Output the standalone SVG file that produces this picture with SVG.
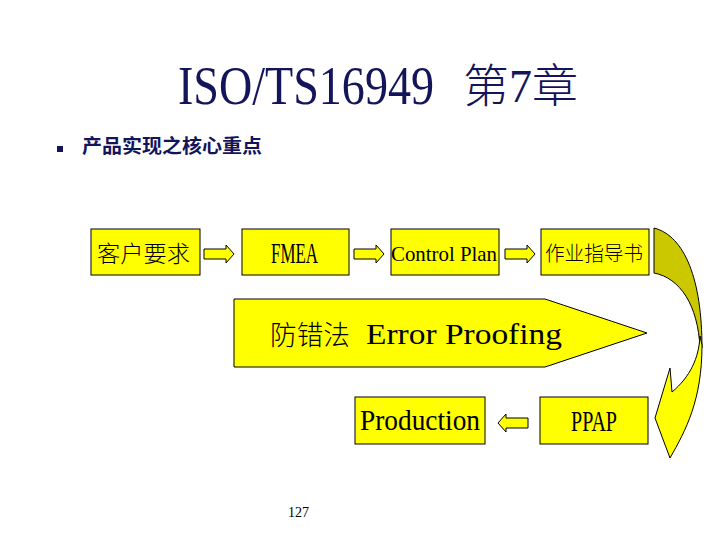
<svg xmlns="http://www.w3.org/2000/svg" width="720" height="540" viewBox="0 0 720 540">
<style>
.box{fill:#FFFF00;stroke:#000;stroke-width:1}
.arr{fill:#FFFF00;stroke:#000;stroke-width:1;stroke-linejoin:miter}
.cjk{font-family:"Noto Sans CJK SC","Noto Sans CJK JP",sans-serif;fill:#000;font-weight:300}
.ser{font-family:"Liberation Serif","Noto Sans CJK SC",serif;fill:#000}
.navy{fill:#14145A}
.sub{font-family:"Noto Sans CJK SC","Noto Sans CJK JP",sans-serif;font-weight:bold;fill:#14145A}
</style>
<rect width="720" height="540" fill="#fff"/>
<g id="title">
<text class="ser navy" transform="translate(178,104) scale(1,1.18)" x="0" y="0" font-size="46" textLength="256" lengthAdjust="spacingAndGlyphs">ISO/TS16949</text>
<text class="ser navy" x="463" y="102" font-size="46" font-weight="300">第7章</text>
</g>
<g id="subtitle">
<rect class="navy" x="57" y="146" width="6" height="6"/>
<text class="sub" x="82" y="153" font-size="19" textLength="180" lengthAdjust="spacingAndGlyphs">产品实现之核心重点</text>
</g>
<g id="node-customer">
<rect class="box" x="91" y="229" width="109" height="46"/>
<text class="cjk" x="97" y="262" font-size="23" textLength="93" lengthAdjust="spacingAndGlyphs">客户要求</text>
</g>
<g id="node-fmea">
<rect class="box" x="242" y="229" width="107" height="46"/>
<text class="ser" x="271" y="263" font-size="29" textLength="47" lengthAdjust="spacingAndGlyphs">FMEA</text>
</g>
<g id="node-controlplan">
<rect class="box" x="391" y="229" width="108" height="46"/>
<text class="ser" x="391" y="261" font-size="21" textLength="106" lengthAdjust="spacingAndGlyphs">Control Plan</text>
</g>
<g id="node-workinstruction">
<rect class="box" x="541" y="229" width="108" height="46"/>
<text class="cjk" x="545" y="261" font-size="20" textLength="98" lengthAdjust="spacingAndGlyphs">作业指导书</text>
</g>
<g id="node-errorproofing">
<polygon class="box" points="234,299 545,299 647,333 545,367 234,367"/>
<text class="cjk" x="270" y="345" font-size="27" textLength="80" lengthAdjust="spacingAndGlyphs">防错法</text>
<text class="ser" x="366" y="344" font-size="30" textLength="196" lengthAdjust="spacingAndGlyphs">Error Proofing</text>
</g>
<g id="node-production">
<rect class="box" x="355" y="397" width="130" height="47"/>
<text class="ser" x="360" y="430" font-size="29" textLength="120" lengthAdjust="spacingAndGlyphs">Production</text>
</g>
<g id="node-ppap">
<rect class="box" x="540" y="397" width="108" height="47"/>
<text class="ser" x="571" y="431" font-size="29" textLength="46" lengthAdjust="spacingAndGlyphs">PPAP</text>
</g>
<g id="connectors">
<polygon class="arr" points="204,249 226,249 226,245 234,254 226,263 226,259 204,259"/>
<polygon class="arr" points="354,249 376,249 376,245 384,254 376,263 376,259 354,259"/>
<polygon class="arr" points="505,249 527,249 527,245 535,254 527,263 527,259 505,259"/>
<polygon class="arr" points="528,418 506,418 506,414 498,423 506,432 506,428 528,428"/>
<path d="M654,228 C685,236 702,280 702,348 L700,348 C698,305 680,278 654,273 Z" fill="#CCC800" stroke="#000" stroke-width="1"/>
<path d="M700,336 C699,358 690,377 672,392 L670,368 L655,418 L670,458 C686,430 702,400 702,345 Z" fill="#FFFF00" stroke="#000" stroke-width="1"/>
</g>
<g id="page-number">
<text class="ser" x="288" y="517" font-size="14" textLength="21" lengthAdjust="spacingAndGlyphs">127</text>
</g>
</svg>
